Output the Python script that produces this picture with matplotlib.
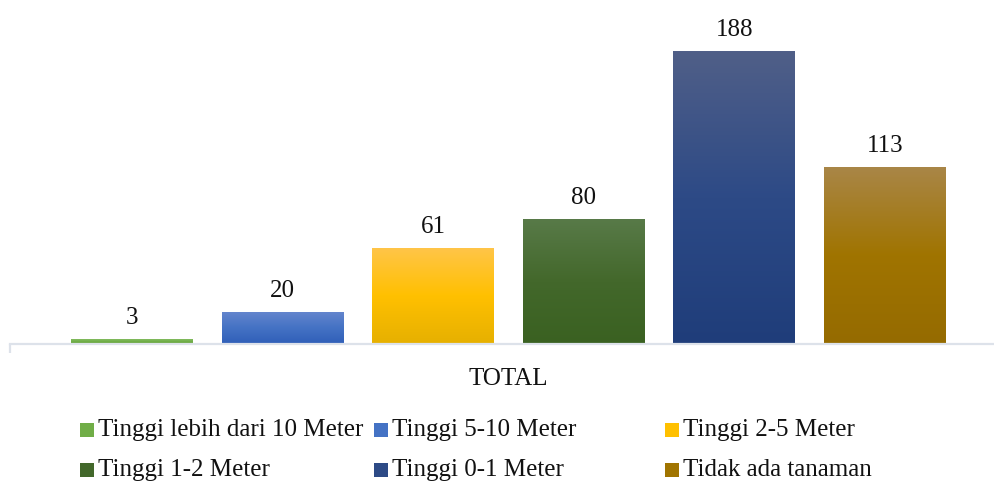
import numpy as np
import matplotlib.pyplot as plt
from matplotlib.patches import Rectangle
from matplotlib.colors import to_rgb

# series values (one category: TOTAL)
series = ["Tinggi lebih dari 10 Meter", "Tinggi 5-10 Meter", "Tinggi 2-5 Meter",
          "Tinggi 1-2 Meter", "Tinggi 0-1 Meter", "Tidak ada tanaman"]
values = [3, 20, 61, 80, 188, 113]
category = "TOTAL"

# gradient stops per bar: top, middle, bottom
grad = [
    ("#82bc60", "#70ad47", "#64a13c"),
    ("#6385cd", "#4472c4", "#2f5eb8"),
    ("#ffc548", "#ffc000", "#e6b000"),
    ("#587a48", "#43682b", "#3a6121"),
    ("#505f88", "#2d4a86", "#1f3d7a"),
    ("#a98647", "#a07400", "#956b00"),
]

FS = 18
plt.rcParams['font.family'] = ['Liberation Serif', 'DejaVu Serif']
fig = plt.figure(figsize=(9.95, 4.83), dpi=100)
ax = fig.add_axes([10 / 995, 139 / 483, 985 / 995, 311.6 / 483])

x = np.arange(len(values))
bars = ax.bar(x, values, width=0.81, color="none", edgecolor="none")


def ramp(stops, n=256):
    cols = np.array([to_rgb(c) for c in stops])
    t = np.linspace(0, 1, n)
    out = np.empty((n, 1, 3))
    for k in range(3):
        out[:, 0, k] = np.interp(t, [0, 0.5, 1], cols[:, k])
    return out


for b, g, v in zip(bars, grad, values):
    x0 = b.get_x()
    ax.imshow(ramp(g), extent=[x0, x0 + b.get_width(), 0, b.get_height()],
              aspect="auto", origin="upper", zorder=2)
    ax.annotate(str(v), (b.get_x() + b.get_width() / 2, b.get_height()),
                xytext=(0, 15.5), textcoords="offset points",
                ha="center", va="center", fontsize=FS, color="#111111")

ax.set_xlim(-0.81, 5.73)
ax.set_ylim(0, 200)

for s in ["top", "right", "left"]:
    ax.spines[s].set_visible(False)
ax.spines["bottom"].set_color("#dde2ea")
ax.spines["bottom"].set_linewidth(1.6)
ax.spines["bottom"].set_zorder(3)
ax.set_yticks([])
ax.set_xticks([2.5])
ax.set_xticklabels([category], fontsize=FS, color="#111111")
ax.tick_params(axis="x", length=0, pad=17)
ax.set_xticks([-0.81], minor=True)
ax.tick_params(axis="x", which="minor", length=6.5, width=1.6, color="#dde2ea")

# legend laid out in three columns
cols_x = [80, 374, 665]
rows_y = [430, 470]
for i, (name, g) in enumerate(zip(series, grad)):
    px = cols_x[i % 3]
    py = rows_y[i // 3]
    fig.add_artist(Rectangle(((px) / 995, 1 - (py + 7) / 483), 14 / 995, 14 / 483,
                             transform=fig.transFigure, facecolor=g[1], edgecolor="none"))
    fig.text((px + 18) / 995, 1 - py / 483, name, fontsize=FS, va="center",
             ha="left", color="#111111")

fig.savefig("out.png", dpi=100)
